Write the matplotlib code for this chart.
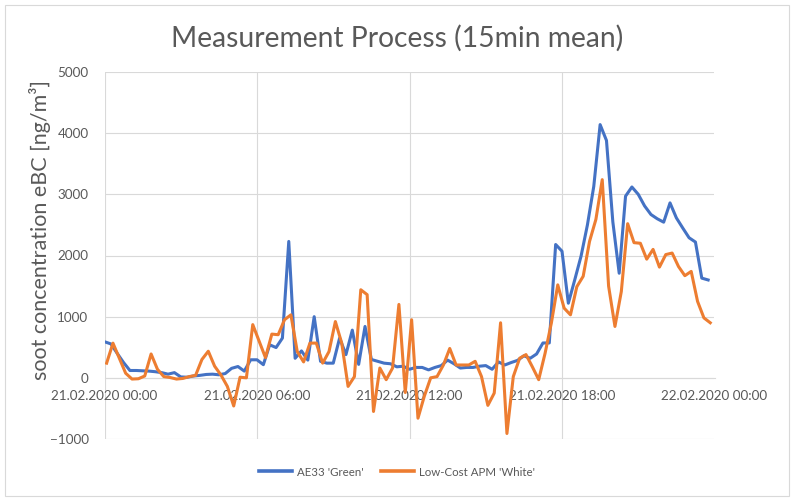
import matplotlib
matplotlib.use("Agg")
import matplotlib.pyplot as plt
import matplotlib.dates as mdates
import pandas as pd
from matplotlib.patches import Rectangle

title = "Measurement Process (15min mean)"
y_label = "soot concentration eBC [ng/m³]"
series_names = ["AE33 'Green'", "Low-Cost APM 'White'"]
start_time = "2020-02-21 00:00"
end_time = "2020-02-22 00:00"
interval = "15min"
apm_shift = "5min"

ae33_values = [
    590, 555, 400, 250, 120, 120, 115, 110, 100, 85, 60, 85, 15, 10, 30, 40,
    55, 60, 50, 70, 155, 185, 110, 295, 295, 215, 540, 495, 650, 2230, 320, 440,
    290, 1000, 270, 240, 240, 650, 380, 780, 220, 840, 300, 270, 240, 230, 180, 190,
    140, 170, 170, 130, 170, 200, 290, 230, 160, 170, 170, 190, 200, 140, 260, 210,
    250, 285, 360, 320, 390, 570, 570, 2180, 2070, 1220, 1600, 1990, 2500, 3130, 4140, 3880,
    2550, 1710, 2970, 3120, 3000, 2810, 2670, 2600, 2545, 2860, 2615, 2450, 2290, 2220, 1630, 1600,
]
apm_values = [
    240, 567, 320, 75, -20, -15, 30, 390, 140, 20, 5, -20, -10, 20, 40, 300,
    435, 190, 45, -140, -460, 10, 0, 870, 600, 330, 715, 705, 950, 1030, 430, 260,
    568, 568, 240, 430, 920, 568, -140, 20, 1440, 1360, -550, 160, -30, 160, 1200, -240,
    950, -660, -300, 0, 20, 210, 480, 210, 210, 210, 270, 20, -450, -250, 900, -910,
    20, 320, 380, 180, -30, 400, 900, 1520, 1140, 1030, 1490, 1660, 2230, 2590, 3240, 1500,
    840, 1410, 2520, 2210, 2200, 1940, 2100, 1810, 2015, 2040, 1820, 1670, 1740, 1250, 980, 900,
]
y_ticks = [-1000, 0, 1000, 2000, 3000, 4000, 5000]
x_tick_hours = [0, 6, 12, 18]

ae33_times = pd.date_range(start_time, periods=len(ae33_values), freq=interval)
apm_times = pd.date_range(start_time, periods=len(apm_values), freq=interval) + pd.Timedelta(apm_shift)

TEXT = "#595959"
GRID = "#d9d9d9"
BLUE = "#4472C4"
ORANGE = "#ED7D31"
FONT = "Lato"

plt.rcParams["font.family"] = [FONT, "DejaVu Sans"]

fig = plt.figure(figsize=(7.94, 5.03), dpi=100)
ax = fig.add_axes([104.5 / 794, 1 - 439 / 503, 610 / 794, 367 / 503])

ax.plot(ae33_times, ae33_values, color=BLUE, lw=2.2, label=series_names[0],
        solid_joinstyle="round", zorder=3)
ax.plot(apm_times, apm_values, color=ORANGE, lw=2.2, label=series_names[1],
        solid_joinstyle="round", zorder=4)

ax.set_xlim(pd.Timestamp(start_time), pd.Timestamp(end_time))
ax.set_ylim(y_ticks[0], y_ticks[-1])
ax.set_yticks(y_ticks)
ax.xaxis.set_major_locator(mdates.HourLocator(byhour=x_tick_hours))
ax.xaxis.set_major_formatter(mdates.DateFormatter("%d.%m.%Y %H:%M"))

ax.set_axisbelow(True)
ax.grid(True, color=GRID, lw=0.8)
for s in ["top", "right", "left"]:
    ax.spines[s].set_visible(False)
ax.spines["bottom"].set_position(("data", 0))
ax.spines["bottom"].set_color(GRID)
ax.spines["bottom"].set_linewidth(0.8)
ax.tick_params(axis="both", length=0, labelsize=9.7, labelcolor=TEXT)
ax.tick_params(axis="x", pad=9)
ax.tick_params(axis="y", pad=11.5)
for lab in ax.get_xticklabels():
    lab.set_zorder(1)

fig.text(397 / 794, 1 - 38 / 503, title, ha="center", va="center",
         fontsize=20.3, color=TEXT)
fig.text(40 / 794, 1 - 230 / 503, y_label, ha="center", va="center",
         rotation=90, fontsize=15.5, color=TEXT)

leg = fig.legend(loc="center", bbox_to_anchor=(397 / 794, 1 - 472 / 503),
                 ncol=2, frameon=False, fontsize=8.3, labelcolor=TEXT,
                 handlelength=2.85, columnspacing=1.5, handletextpad=0.45)
for line in leg.get_lines():
    line.set_linewidth(2.6)

fig.patches.append(Rectangle((5 / 794, 1 - 496 / 503), 784 / 794, 491 / 503,
                             transform=fig.transFigure, fill=False,
                             edgecolor=GRID, lw=0.8))

fig.savefig("out.png", dpi=100, facecolor="white")
